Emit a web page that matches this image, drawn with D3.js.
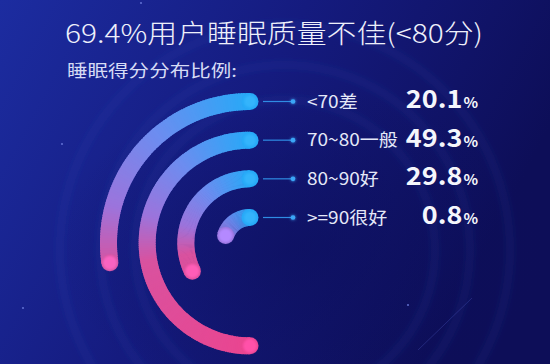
<!DOCTYPE html>
<html><head><meta charset="utf-8">
<script src="https://cdn.jsdelivr.net/npm/d3@7"></script>
<style>html,body{margin:0;padding:0;background:#141a80;overflow:hidden}svg{display:block}</style>
</head><body>
<script>
const title = "69.4%用户睡眠质量不佳(<80分)";
const subtitle = "睡眠得分分布比例:";
const categories = ["<70差", "70~80一般", "80~90好", ">=90很好"];
const values = [20.1, 49.3, 29.8, 0.8];
const valueSuffix = "%";

const W = 550, H = 364;
const cx = 250, cy = 243, band = 17;
const FONT = "'Noto Sans CJK SC','Noto Sans',sans-serif";

const svg = d3.select("body").append("svg").attr("width", W).attr("height", H);
const defs = svg.append("defs");

// background
const bg = defs.append("linearGradient").attr("id", "bg").attr("x1", 0).attr("y1", 0).attr("x2", 1).attr("y2", 0.35);
bg.append("stop").attr("offset", 0).attr("stop-color", "#1c2ca0");
bg.append("stop").attr("offset", 0.5).attr("stop-color", "#151b7f");
bg.append("stop").attr("offset", 1).attr("stop-color", "#0d0e58");
svg.append("rect").attr("width", W).attr("height", H).attr("fill", "url(#bg)");
const spot = defs.append("radialGradient").attr("id", "spot").attr("cx", 0.55).attr("cy", 0.68).attr("r", 0.45);
spot.append("stop").attr("offset", 0).attr("stop-color", "#0c0f5c").attr("stop-opacity", 0.55);
spot.append("stop").attr("offset", 1).attr("stop-color", "#0c0f5c").attr("stop-opacity", 0);
svg.append("rect").attr("width", W).attr("height", H).attr("fill", "url(#spot)");

const blur = defs.append("filter").attr("id", "blur").attr("x", "-50%").attr("y", "-50%").attr("width", "200%").attr("height", "200%");
blur.append("feGaussianBlur").attr("stdDeviation", 3);
const soft = defs.append("filter").attr("id", "soft").attr("x", "-50%").attr("y", "-50%").attr("width", "200%").attr("height", "200%");
soft.append("feGaussianBlur").attr("stdDeviation", 1.2);
const glow = defs.append("filter").attr("id", "glow").attr("x", "-100%").attr("y", "-100%").attr("width", "300%").attr("height", "300%");
glow.append("feGaussianBlur").attr("in", "SourceGraphic").attr("stdDeviation", 1.5).attr("result", "b");
const gm = glow.append("feMerge"); gm.append("feMergeNode").attr("in", "b"); gm.append("feMergeNode").attr("in", "SourceGraphic");

// faint rings
[150, 185, 225].forEach(rr => {
  svg.append("circle").attr("cx", 285).attr("cy", 250).attr("r", rr)
    .attr("fill", "none").attr("stroke", "#3b4fc0").attr("stroke-opacity", 0.12)
    .attr("stroke-width", 8).attr("filter", "url(#blur)");
});

// stars
[[141, 3], [62, 144], [23, 308], [408, 305]].forEach(p => {
  svg.append("circle").attr("cx", p[0]).attr("cy", p[1]).attr("r", 1.1).attr("fill", "#6f7fe0").attr("opacity", 0.8);
});
svg.append("line").attr("x1", 418).attr("y1", 350).attr("x2", 472).attr("y2", 298)
  .attr("stroke", "#5a6ad8").attr("stroke-opacity", 0.35).attr("stroke-width", 0.8);

// scales
const rScale = d3.scalePoint().domain(categories).range([141.5, 25.5]);
const sweepScale = d3.scaleLinear().domain([0.8, 20.1, 29.8, 49.3]).range([73, 98, 116, 180]);
const colorScale = d3.scaleLinear()
  .domain([0, 40, 75, 100, 180])
  .range(["#27a9f7", "#6c8df0", "#9c74dc", "#d9529f", "#ea4590"])
  .interpolate(d3.interpolateRgb);

const arcGen = d3.arc();
const rad = d => d * Math.PI / 180;
const arcsG = svg.append("g").attr("transform", `translate(${cx},${cy})`);

categories.forEach((c, i) => {
  const r = rScale(c);
  const sweep = sweepScale(values[i]);
  const g = arcsG.append("g");
  for (let a = 0; a < sweep; a += 1) {
    const a1 = Math.min(a + 1.6, sweep);
    g.append("path")
      .attr("d", arcGen({ innerRadius: r - band / 2, outerRadius: r + band / 2, startAngle: -rad(a1), endAngle: -rad(a) }))
      .attr("fill", colorScale(a + 0.5));
  }
  // start cap
  g.append("circle").attr("cx", 0).attr("cy", -r).attr("r", band / 2).attr("fill", colorScale(0));
  g.append("circle").attr("cx", 0).attr("cy", -r).attr("r", band / 2 - 2.5).attr("fill", "#3cbcff").attr("opacity", 0.6).attr("filter", "url(#soft)");
  // end cap
  const ex = -r * Math.sin(rad(sweep)), ey = -r * Math.cos(rad(sweep));
  const ec = colorScale(sweep);
  g.append("circle").attr("cx", ex).attr("cy", ey).attr("r", band / 2).attr("fill", ec);
  g.append("circle").attr("cx", ex).attr("cy", ey).attr("r", band / 2 - 1.5)
    .attr("fill", d3.color(ec).brighter(0.45)).attr("filter", "url(#soft)");

  // connector
  const y = cy - r;
  svg.append("line").attr("x1", 263).attr("x2", 293).attr("y1", y).attr("y2", y)
    .attr("stroke", "#2f8ce4").attr("stroke-width", 1.2);
  svg.append("circle").attr("cx", 293).attr("cy", y).attr("r", 2.3).attr("fill", "#3ba6f7").attr("filter", "url(#glow)");

  // label
  svg.append("g").attr("transform", `translate(307,${y + 6}) scale(1.12,1)`)
    .append("text").attr("font-family", FONT).attr("font-size", 17).attr("fill", "#e4e8f8")
    .text(c);

  // value
  const vt = svg.append("g").attr("transform", `translate(478,${y + 6.5}) scale(1.08,1)`)
    .append("text").attr("text-anchor", "end").attr("font-family", FONT).attr("font-weight", 700).attr("fill", "#f5f6fc");
  vt.append("tspan").attr("font-size", 25).text(values[i].toFixed(1));
  vt.append("tspan").attr("font-size", 14).attr("dx", 1).text(valueSuffix);
});

// title
svg.append("text").attr("x", 65).attr("y", 43).attr("font-family", FONT).attr("font-weight", 300)
  .attr("font-size", 26).attr("fill", "#eef0fb")
  .attr("textLength", 418).attr("lengthAdjust", "spacingAndGlyphs").text(title);
svg.append("text").attr("x", 67).attr("y", 77).attr("font-family", FONT)
  .attr("font-size", 16.5).attr("fill", "#d6dbf5")
  .attr("textLength", 170).attr("lengthAdjust", "spacingAndGlyphs").text(subtitle);
</script>
</body></html>
